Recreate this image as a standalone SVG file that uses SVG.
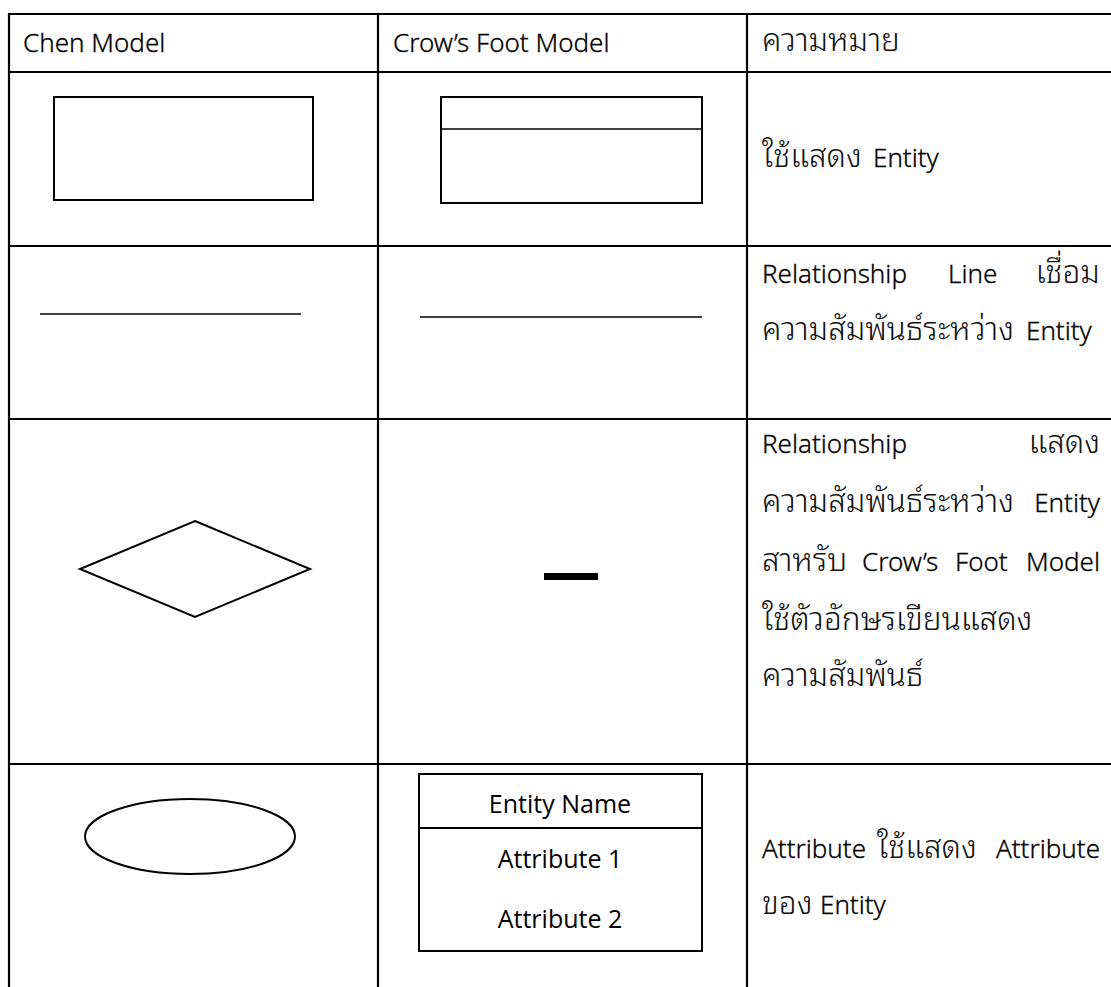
<svg xmlns="http://www.w3.org/2000/svg" width="1111" height="987" viewBox="0 0 1111 987">
  <style>
    .grid { stroke: #000; stroke-width: 2.2; fill: none; }
    .shape { stroke: #000; stroke-width: 2; fill: #fff; }
    .thin { stroke: #000; stroke-width: 1.3; fill: none; }
    text { fill: #111; }
    .lat { font-family: "Noto Sans", "Open Sans", "Liberation Sans", sans-serif; font-size: 26px; font-weight: 300; fill: #000; stroke: #000; stroke-width: 0.3; }
    .thai { font-family: "Noto Sans Thai Looped", "Noto Serif Thai", "Loma", "Garuda", "Norasi", "Noto Sans Thai", "Noto Sans", sans-serif; font-size: 31.5px; font-weight: 300; }
    .cal { font-family: "Open Sans", "Liberation Sans", sans-serif; font-size: 25px; fill: #000; text-anchor: middle; }
  </style>

  <!-- table grid -->
  <g id="table">
    <line class="grid" x1="8" y1="14" x2="1112" y2="14"/>
    <line class="grid" x1="8" y1="72" x2="1112" y2="72"/>
    <line class="grid" x1="8" y1="246" x2="1112" y2="246"/>
    <line class="grid" x1="8" y1="419" x2="1112" y2="419"/>
    <line class="grid" x1="8" y1="764" x2="1112" y2="764"/>
    <line class="grid" x1="9" y1="13" x2="9" y2="990"/>
    <line class="grid" x1="378" y1="13" x2="378" y2="990"/>
    <line class="grid" x1="747" y1="13" x2="747" y2="990"/>
  </g>

  <!-- header row -->
  <g id="header">
    <text class="lat" x="23" y="52">Chen Model</text>
    <text class="lat" x="393" y="52">Crow’s Foot Model</text>
    <text class="thai" x="762" y="51">ความหมาย</text>
  </g>

  <!-- entity symbols -->
  <g id="chen-entity">
    <rect class="shape" x="54" y="97" width="259" height="103"/>
  </g>
  <g id="crow-entity">
    <rect class="shape" x="441" y="97" width="261" height="106"/>
    <line class="thin" x1="441" y1="129" x2="702" y2="129"/>
  </g>
  <g id="entity-desc">
    <text x="762" y="167"><tspan class="thai">ใช้แสดง</tspan><tspan class="lat" x="873">Entity</tspan></text>
  </g>

  <!-- relationship line symbols -->
  <g id="connectors">
    <line class="thin" x1="40" y1="314" x2="301" y2="314"/>
    <line class="thin" x1="420" y1="317" x2="702" y2="317"/>
  </g>
  <g id="line-desc">
    <text class="lat" x="762" y="283">Relationship</text>
    <text class="lat" x="948" y="283">Line</text>
    <text class="thai" x="1100" y="283" text-anchor="end">เชื่อม</text>
    <text x="762" y="340"><tspan class="thai">ความสัมพันธ์ระหว่าง</tspan><tspan class="lat" x="1026">Entity</tspan></text>
  </g>

  <!-- relationship symbols -->
  <g id="chen-relationship">
    <polygon class="shape" points="195,521 310,569 195,617 80,569"/>
  </g>
  <g id="crow-relationship">
    <rect x="544" y="573" width="54" height="7" fill="#000"/>
  </g>
  <g id="relationship-desc">
    <text class="lat" x="762" y="453">Relationship</text>
    <text class="thai" x="1100" y="453" text-anchor="end">แสดง</text>
    <text class="thai" x="762" y="512">ความสัมพันธ์ระหว่าง</text>
    <text class="lat" x="1100" y="512" text-anchor="end">Entity</text>
    <text class="thai" x="762" y="571">สาหรับ</text>
    <text class="lat" x="862" y="571">Crow’s</text>
    <text class="lat" x="955" y="571">Foot</text>
    <text class="lat" x="1100" y="571" text-anchor="end">Model</text>
    <text class="thai" x="762" y="630">ใช้ตัวอักษรเขียนแสดง</text>
    <text class="thai" x="762" y="686">ความสัมพันธ์</text>
  </g>

  <!-- attribute symbols -->
  <g id="chen-attribute">
    <ellipse class="shape" cx="190" cy="836.5" rx="105" ry="37.5"/>
  </g>
  <g id="crow-attribute">
    <rect class="shape" x="419" y="774" width="283" height="177"/>
    <line class="shape" x1="419" y1="828" x2="702" y2="828"/>
    <text class="cal" x="560" y="813">Entity Name</text>
    <text class="cal" x="560" y="868">Attribute 1</text>
    <text class="cal" x="560" y="928">Attribute 2</text>
  </g>
  <g id="attribute-desc">
    <text class="lat" x="762" y="858">Attribute</text>
    <text class="thai" x="877" y="858">ใช้แสดง</text>
    <text class="lat" x="1100" y="858" text-anchor="end">Attribute</text>
    <text x="762" y="914"><tspan class="thai">ของ</tspan><tspan class="lat" x="820">Entity</tspan></text>
  </g>
</svg>
